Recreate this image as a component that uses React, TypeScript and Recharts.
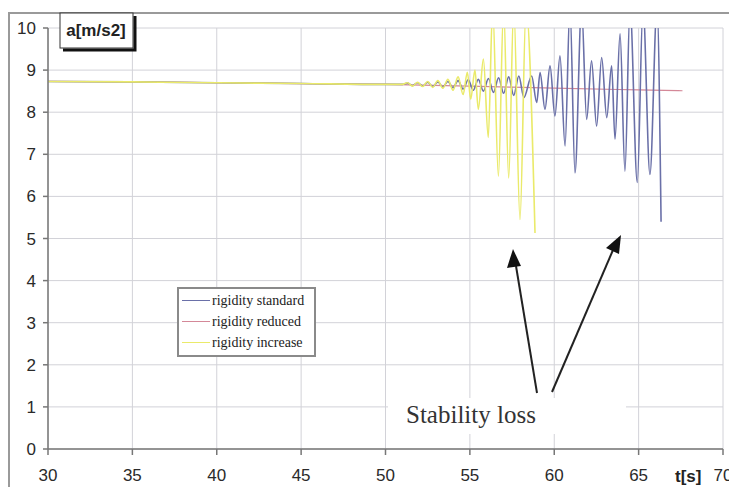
import { CartesianGrid, Legend, Line, LineChart, XAxis, YAxis } from "recharts";

// time [s] and acceleration [m/s2]
const standardTime = [
  30, 35, 40, 45, 50, 51, 51.3, 51.6, 51.9, 52.2, 52.5, 52.8, 53.1, 53.4, 53.7, 54.0, 54.3, 54.6, 54.9,
  55.2, 55.5, 55.8, 56.1, 56.4, 56.7, 57.0, 57.3, 57.6, 57.9, 58.2, 58.66, 58.96, 59.16, 59.45, 59.75,
  60.04, 60.34, 60.64, 60.93, 61.23, 61.62, 61.92, 62.21, 62.51, 62.81, 63.11, 63.4, 63.6, 63.9, 64.19,
  64.49, 64.92, 65.26, 65.67, 66.09, 66.33,
];
const standardAccel = [
  8.73, 8.72, 8.7, 8.68, 8.66, 8.66, 8.69, 8.63, 8.7, 8.62, 8.71, 8.61, 8.72, 8.6, 8.73, 8.58, 8.75, 8.55,
  8.77, 8.52, 8.78, 8.5, 8.8, 8.47, 8.82, 8.45, 8.84, 8.4, 8.86, 8.35, 8.86, 8.23, 8.94, 8.07, 9.1, 7.91,
  9.34, 7.2, 10.5, 6.56, 10.5, 7.83, 9.22, 7.67, 9.3, 7.87, 9.1, 7.36, 9.86, 6.6, 10.5, 6.33, 10.5, 6.52,
  10.5, 5.4,
];

const reducedTime = [30, 35, 40, 45, 50, 55, 60, 65, 67.6];
const reducedAccel = [8.73, 8.72, 8.7, 8.68, 8.66, 8.62, 8.57, 8.53, 8.51];

const increaseTime = [
  30, 35, 40, 45, 50, 51, 51.3, 51.6, 51.9, 52.2, 52.5, 52.8, 53.1, 53.4, 53.7, 54.0, 54.3, 54.6, 54.85,
  55.05, 55.3, 55.5, 55.8, 56.09, 56.35, 56.69, 57.0, 57.3, 57.6, 57.97, 58.33, 58.86,
];
const increaseAccel = [
  8.73, 8.72, 8.7, 8.68, 8.66, 8.66, 8.7, 8.62, 8.71, 8.61, 8.73, 8.59, 8.75, 8.57, 8.78, 8.52, 8.84, 8.42,
  8.95, 8.31, 9.0, 8.07, 9.26, 7.4, 10.5, 6.48, 10.5, 6.44, 10.5, 5.45, 10.5, 5.13,
];

const seriesNames = ["rigidity standard", "rigidity reduced", "rigidity increase"];
const seriesColors = ["#6a70a8", "#d48898", "#eaea6a"];

const xTicks = [30, 35, 40, 45, 50, 55, 60, 65, 70];
const yTicks = [0, 1, 2, 3, 4, 5, 6, 7, 8, 9, 10];

const toPoints = (t: number[], a: number[]) => t.map((x, i) => ({ t: x, a: a[i] }));

const standardData = toPoints(standardTime, standardAccel);
const reducedData = toPoints(reducedTime, reducedAccel);
const increaseData = toPoints(increaseTime, increaseAccel);

const tickStyle = { fontFamily: "Liberation Sans, Arial, sans-serif", fontSize: 17, fill: "#2a2a2a" };

function LegendBox() {
  return (
    <div
      style={{
        border: "2px solid #8a8a8a",
        background: "#fff",
        padding: "1px 10px 2px 3px",
        fontFamily: "Liberation Serif, serif",
        fontSize: 14,
        color: "#222",
        lineHeight: "21px",
        whiteSpace: "nowrap",
      }}
    >
      {seriesNames.map((name, i) => (
        <div key={name} style={{ display: "flex", alignItems: "center" }}>
          <span style={{ display: "inline-block", width: 28, height: 0, borderTop: `1px solid ${seriesColors[i]}`, marginRight: 2 }} />
          {name}
        </div>
      ))}
    </div>
  );
}

export default function App() {
  return (
    <div style={{ position: "absolute", left: 0, top: 0, width: 729, height: 487, overflow: "hidden", background: "#fff" }}>
      <div style={{ position: "absolute", left: 8, top: 12, width: 800, height: 560, border: "2px solid #9a9a9a" }} />
      <div style={{ position: "absolute", left: 0, top: 0 }}>
        <LineChart width={729} height={487} margin={{ top: 28, right: 6, bottom: 0, left: 0 }}>
          <CartesianGrid stroke="#d2d2d8" />
          <XAxis
            dataKey="t"
            type="number"
            domain={[30, 70]}
            ticks={xTicks}
            interval={0}
            allowDataOverflow
            height={38}
            tickSize={6}
            tickMargin={14}
            stroke="#777"
            strokeWidth={1.5}
            tick={tickStyle}
          />
          <YAxis
            type="number"
            domain={[0, 10]}
            ticks={yTicks}
            interval={0}
            allowDataOverflow
            width={48}
            tickSize={5}
            tickMargin={7}
            stroke="#777"
            strokeWidth={1.5}
            tick={tickStyle}
          />
          <Line type="monotone" data={reducedData} dataKey="a" name={seriesNames[1]} stroke={seriesColors[1]} strokeWidth={1.2} dot={false} isAnimationActive={false} />
          <Line type="monotone" data={standardData} dataKey="a" name={seriesNames[0]} stroke={seriesColors[0]} strokeWidth={1.6} dot={false} isAnimationActive={false} />
          <Line type="monotone" data={increaseData} dataKey="a" name={seriesNames[2]} stroke={seriesColors[2]} strokeWidth={1.6} dot={false} isAnimationActive={false} />
          <Legend
            layout="vertical"
            align="center"
            verticalAlign="middle"
            wrapperStyle={{ left: 177, top: 287, width: "auto", height: "auto" }}
            content={() => <LegendBox />}
          />
        </LineChart>
      </div>
      <svg width={729} height={487} style={{ position: "absolute", left: 0, top: 0, pointerEvents: "none" }}>
        <rect x={60} y={13} width={73} height={35} fill="#fff" stroke="#333" strokeWidth={1} />
        <path d="M 135 16 L 135 50 L 63 50" fill="none" stroke="#111" strokeWidth={3} />
        <text x={96} y={36} textAnchor="middle" fontFamily="Liberation Sans, Arial, sans-serif" fontWeight="bold" fontSize={17} fill="#222">
          a[m/s2]
        </text>
        <text x={675} y={482} fontFamily="Liberation Sans, Arial, sans-serif" fontWeight="bold" fontSize={17} fill="#222">
          t[s]
        </text>
        <rect x={388} y={398} width={238} height={36} fill="#fff" />
        <text x={406} y={423} fontFamily="Liberation Serif, serif" fontSize={25} fill="#333">
          Stability loss
        </text>
        <line x1={537} y1={393} x2={516} y2={266} stroke="#222" strokeWidth={2} />
        <polygon points="513,249 507,268 521,266" fill="#111" />
        <line x1={552} y1={392} x2={613} y2={250} stroke="#222" strokeWidth={2} />
        <polygon points="621,235 606,248 619,254" fill="#111" />
      </svg>
    </div>
  );
}
